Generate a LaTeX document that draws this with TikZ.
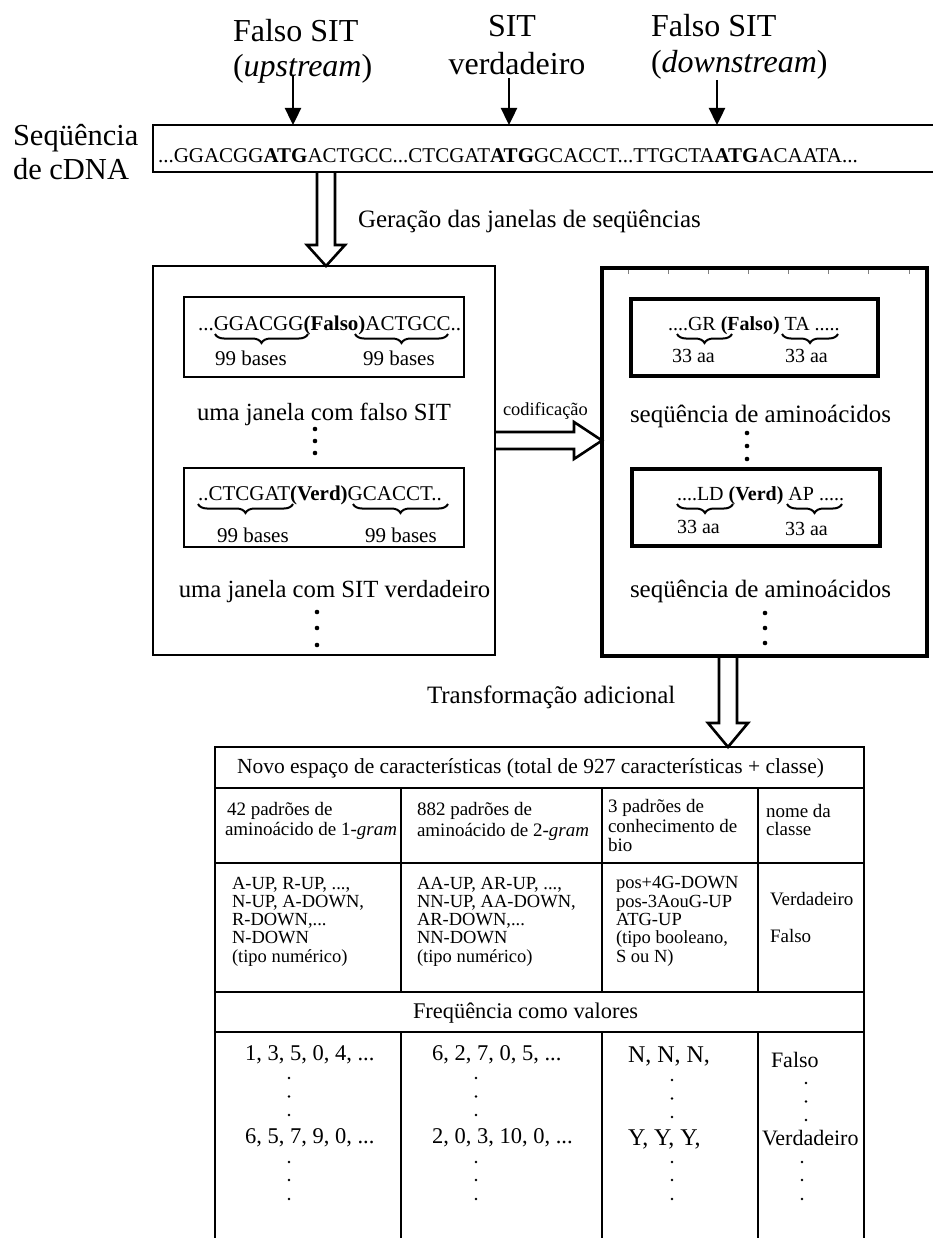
\documentclass[tikz,border=0pt]{standalone}
\usepackage{fontspec}
\setmainfont{Liberation Serif}
\usetikzlibrary{arrows.meta,calc,decorations.pathreplacing}
\newcommand{\myfs}[1]{\fontsize{#1pt}{#1pt}\selectfont}
\newcommand{\hollowdown}[5]{%
  \draw[hollow] ($(#1)+(-#3,0)$) -- ($(#2)+(-#3,-#5)$) -- ($(#2)+(-#4,-#5)$) -- (#2)
    -- ($(#2)+(#4,-#5)$) -- ($(#2)+(#3,-#5)$) -- ($(#1)+(#3,0)$);}
\newcommand{\hollowright}[5]{%
  \draw[hollow] ($(#1)+(0,-#3)$) -- ($(#2)+(-#5,-#3)$) -- ($(#2)+(-#5,-#4)$) -- (#2)
    -- ($(#2)+(-#5,#4)$) -- ($(#2)+(-#5,#3)$) -- ($(#1)+(0,#3)$);}
\begin{document}
\begin{tikzpicture}[x=1pt,y=-1pt,
  box/.style={draw, line width=2.8pt, inner sep=0pt, outer sep=0pt, anchor=north west},
  txt/.style={inner sep=0pt, outer sep=0pt, anchor=base west},
  ctxt/.style={inner sep=0pt, outer sep=0pt, anchor=base},
  arr/.style={line width=2.4pt, -{Triangle[width=16pt,length=17pt]}},
  hollow/.style={line width=2.6pt, line join=miter},
  brc/.style={line width=2pt, decorate, decoration={brace,mirror,amplitude=9pt}},
  tline/.style={line width=2.8pt}]
\useasboundingbox (0,0) rectangle (933,1238);

% ---------- top labels ----------
\node[txt, font=\myfs{32}] (fs1) at (233,42) {Falso SIT};
\node[txt, font=\myfs{32}] (up1) at (233,77) {(\textit{upstream})};
\node[ctxt, font=\myfs{32}] (sit2) at (512,37) {SIT};
\node[ctxt, font=\myfs{32}] (ver2) at (517,75) {verdadeiro};
\node[txt, font=\myfs{32}] (fs3) at (651,37) {Falso SIT};
\node[txt, font=\myfs{32}] (dn3) at (651,73) {(\textit{downstream})};

% ---------- cDNA sequence ----------
\node[box, minimum width=784pt, minimum height=47pt] (seqbox) at (153,125) {};
\node[txt, font=\myfs{21}] (seqtxt) at (158,163)
  {...GGACGG\textbf{ATG}ACTGCC...CTCGAT\textbf{ATG}GCACCT...TTGCTA\textbf{ATG}ACAATA...};
\node[txt, font=\myfs{30.5}] (seqlab1) at (13,146) {Seqüência};
\node[txt, font=\myfs{30.5}] (seqlab2) at (13,180) {de cDNA};

\coordinate (p1) at (293,76);
\coordinate (p2) at (509,78);
\coordinate (p3) at (717,80);
\draw[arr] (p1) -- (p1 |- seqbox.north);
\draw[arr] (p2) -- (p2 |- seqbox.north);
\draw[arr] (p3) -- (p3 |- seqbox.north);

% ---------- big boxes ----------
\node[box, minimum width=342pt, minimum height=389pt] (leftbox) at (153,266) {};
\node[box, line width=3.2pt, minimum width=325pt, minimum height=388pt] (rightbox) at (602,268) {};
\foreach \x in {628,668,708,748,788,828,868,909}
  \draw[line width=0.8pt, gray] (\x,270) -- (\x,274);

\node[txt, font=\myfs{25}] (ger) at (358,228) {Geração das janelas de seqüências};

\coordinate (x326) at (326,0);
\coordinate (h1a) at (seqbox.south -| x326);
\coordinate (h1b) at (leftbox.north -| x326);
\hollowdown{h1a}{h1b}{9}{19}{21}

% ---------- left box content ----------
\node[box, minimum width=280pt, minimum height=80pt] (L1) at (184,297) {};
\node[txt, font=\myfs{21}] (L1t) at (198,330) {...GGACGG\textbf{(Falso)}ACTGCC..};
\draw[brc] (215,334) -- (308,334);
\draw[brc] (355,334) -- (448,334);
\node[txt, font=\myfs{21}] (L1a) at (215,365) {99 bases};
\node[txt, font=\myfs{21}] (L1b) at (363,365) {99 bases};

\node[ctxt, font=\myfs{24.7}] (Lcap1) at (324,420) {uma janela com falso SIT};
\fill (315,429) circle (2.3pt) (315,441) circle (2.3pt) (315,453) circle (2.3pt);

\node[box, minimum width=280pt, minimum height=79pt] (L2) at (184,468) {};
\node[txt, font=\myfs{21}] (L2t) at (198,500) {..CTCGAT\textbf{(Verd)}GCACCT..};
\draw[brc] (198,504) -- (293,504);
\draw[brc] (353,504) -- (448,504);
\node[txt, font=\myfs{21}] (L2a) at (217,542) {99 bases};
\node[txt, font=\myfs{21}] (L2b) at (365,542) {99 bases};

\node[ctxt, font=\myfs{24.7}] (Lcap2) at (334.5,597) {uma janela com SIT verdadeiro};
\fill (317,612) circle (2.3pt) (317,628) circle (2.3pt) (317,645) circle (2.3pt);

% ---------- codificacao ----------
\coordinate (y440) at (0,440.5);
\coordinate (h2a) at (leftbox.east |- y440);
\coordinate (h2b) at (rightbox.west |- y440);
\hollowright{h2a}{h2b}{8.5}{18.5}{28}
\node[txt, font=\myfs{18.4}] (cod) at (503,415) {codificação};

% ---------- right box content ----------
\node[box, line width=3.2pt, minimum width=247pt, minimum height=77pt] (R1) at (631,299) {};
\node[txt, font=\myfs{20}] (R1t) at (668,330) {....GR \textbf{(Falso)} TA .....};
\draw[brc] (677,334) -- (732,334);
\draw[brc] (782,334) -- (838,334);
\node[txt, font=\myfs{20}] (R1a) at (672,362) {33 aa};
\node[txt, font=\myfs{20}] (R1b) at (785,362) {33 aa};

\node[ctxt, font=\myfs{25}] (Rcap1) at (760.5,422) {seqüência de aminoácidos};
\fill (747,433) circle (2.3pt) (747,446) circle (2.3pt) (747,459) circle (2.3pt);

\node[box, line width=3.2pt, minimum width=248pt, minimum height=77pt] (R2) at (632,469) {};
\node[txt, font=\myfs{20}] (R2t) at (677,500) {....LD \textbf{(Verd)} AP .....};
\draw[brc] (677,504) -- (733,504);
\draw[brc] (787,504) -- (842,504);
\node[txt, font=\myfs{20}] (R2a) at (677,533) {33 aa};
\node[txt, font=\myfs{20}] (R2b) at (785,535) {33 aa};

\node[ctxt, font=\myfs{25}] (Rcap2) at (760.5,597) {seqüência de aminoácidos};
\fill (765,613) circle (2.3pt) (765,628) circle (2.3pt) (765,643) circle (2.3pt);

% ---------- table ----------
\node[box, minimum width=649pt, minimum height=500pt] (tbl) at (215,747) {};
\coordinate (x728) at (728,0);
\coordinate (h3a) at (rightbox.south -| x728);
\coordinate (h3b) at (tbl.north -| x728);
\hollowdown{h3a}{h3b}{9}{20}{24}
\node[txt, font=\myfs{25}] (trans) at (427,703) {Transformação adicional};

\draw[tline] (215,788) -- (864,788);
\draw[tline] (215,863) -- (864,863);
\draw[tline] (215,992) -- (864,992);
\draw[tline] (215,1032) -- (864,1032);
\foreach \x in {401,602,758} {
  \draw[tline] (\x,788) -- (\x,992);
  \draw[tline] (\x,1032) -- (\x,1250);
}

\node[txt, font=\myfs{21.5}] (head) at (237,773)
  {Novo espaço de características (total de 927 características + classe)};

% row 2
\node[txt, font=\myfs{19}] (r2a1) at (227,815) {42 padrões de};
\node[txt, font=\myfs{19}] (r2a2) at (225,835) {aminoácido de 1-\textit{gram}};
\node[txt, font=\myfs{19}] (r2b1) at (417,815) {882 padrões de};
\node[txt, font=\myfs{19}] (r2b2) at (417,836) {aminoácido de 2-\textit{gram}};
\node[txt, font=\myfs{19}] (r2c1) at (608,812) {3 padrões de};
\node[txt, font=\myfs{19}] (r2c2) at (608,832) {conhecimento de};
\node[txt, font=\myfs{19}] (r2c3) at (608,851) {bio};
\node[txt, font=\myfs{19}] (r2d1) at (766,817) {nome da};
\node[txt, font=\myfs{19}] (r2d2) at (766,835) {classe};

% row 3
\node[txt, font=\myfs{18.5}] (r3a1) at (232,889) {A-UP, R-UP, ...,};
\node[txt, font=\myfs{18.5}] (r3a2) at (232,907) {N-UP, A-DOWN,};
\node[txt, font=\myfs{18.5}] (r3a3) at (232,925) {R-DOWN,...};
\node[txt, font=\myfs{18.5}] (r3a4) at (232,943) {N-DOWN};
\node[txt, font=\myfs{18.5}] (r3a5) at (232,962) {(tipo numérico)};
\node[txt, font=\myfs{18.5}] (r3b1) at (417,889) {AA-UP, AR-UP, ...,};
\node[txt, font=\myfs{18.5}] (r3b2) at (417,907) {NN-UP, AA-DOWN,};
\node[txt, font=\myfs{18.5}] (r3b3) at (417,925) {AR-DOWN,...};
\node[txt, font=\myfs{18.5}] (r3b4) at (417,943) {NN-DOWN};
\node[txt, font=\myfs{18.5}] (r3b5) at (417,962) {(tipo numérico)};
\node[txt, font=\myfs{18.5}] (r3c1) at (616,888) {pos+4G-DOWN};
\node[txt, font=\myfs{18.5}] (r3c2) at (616,907) {pos-3AouG-UP};
\node[txt, font=\myfs{18.5}] (r3c3) at (616,925) {ATG-UP};
\node[txt, font=\myfs{18.5}] (r3c4) at (616,943) {(tipo booleano,};
\node[txt, font=\myfs{18.5}] (r3c5) at (616,962) {S ou N)};
\node[txt, font=\myfs{19}] (r3d1) at (770,905) {Verdadeiro};
\node[txt, font=\myfs{19}] (r3d2) at (770,942) {Falso};

% row 4
\node[txt, font=\myfs{22.4}] (freq) at (413,1018) {Freqüência como valores};

% row 5
\node[txt, font=\myfs{22.5}] (v1a) at (245,1060) {1, 3, 5, 0, 4, ...};
\node[txt, font=\myfs{22.5}] (v1b) at (245,1143) {6, 5, 7, 9, 0, ...};
\node[txt, font=\myfs{22.5}] (v2a) at (432,1060) {6, 2, 7, 0, 5, ...};
\node[txt, font=\myfs{22.5}] (v2b) at (432,1143) {2, 0, 3, 10, 0, ...};
\node[txt, font=\myfs{24}] (v3a) at (628,1062) {N, N, N,};
\node[txt, font=\myfs{24}] (v3b) at (628,1145) {Y, Y, Y,};
\node[txt, font=\myfs{22}] (v4a) at (771,1067) {Falso};
\node[txt, font=\myfs{22}] (v4b) at (762,1145) {Verdadeiro};
\foreach \x/\ya/\yb in {289/1078/1162, 476/1078/1162, 672/1080/1162, 806/1083/1162} {
  \fill (\x,\ya) circle (1.4pt) (\x,\ya+18.5) circle (1.4pt) (\x,\ya+37) circle (1.4pt);
}
\foreach \x in {289,476,672,802} {
  \fill (\x,1162) circle (1.4pt) (\x,1180) circle (1.4pt) (\x,1199) circle (1.4pt);
}
\end{tikzpicture}
\end{document}
